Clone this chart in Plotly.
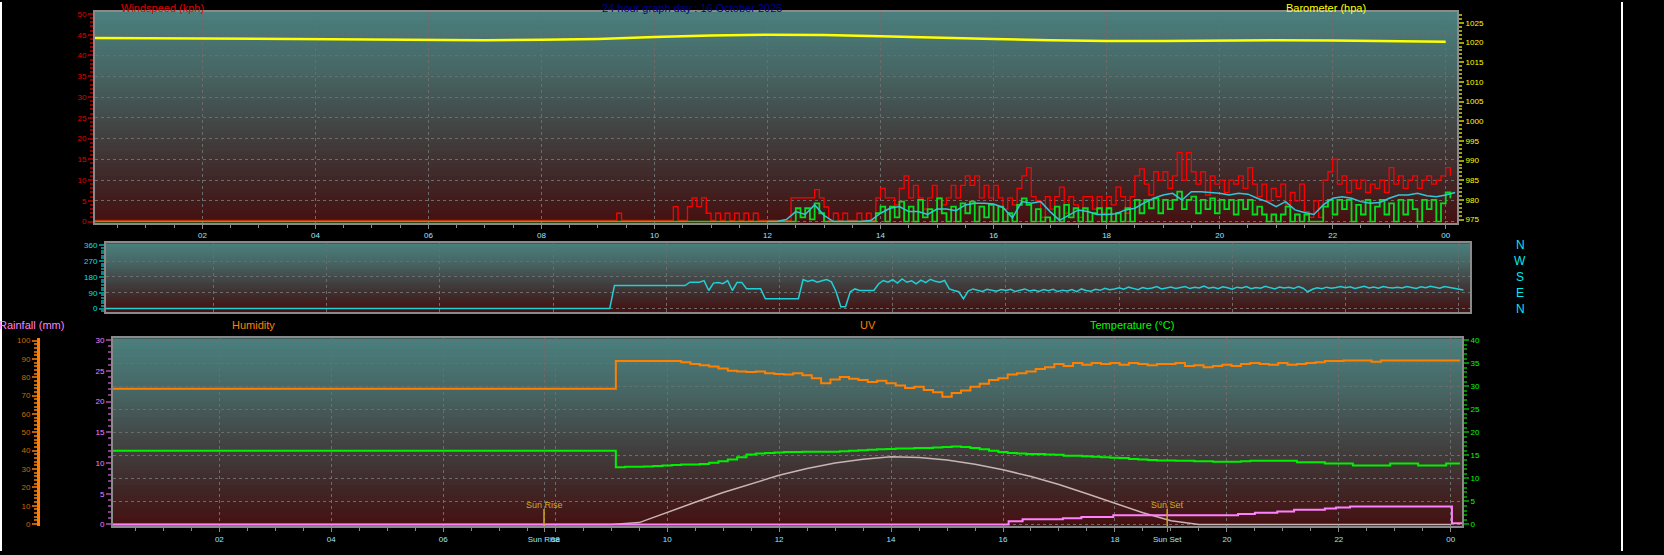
import numpy as np
import plotly.graph_objects as go

W, H = 1664, 555

# ---------------- data ----------------
DAY_TITLE = "24 hour graph day : 16 October 2025"

# wind gust (kph), one value every 5 minutes from 00:00
GUST_KPH = [
    0.3, 0.3, 0.3, 0.3, 0.3, 0.3, 0.3, 0.3, 0.3, 0.3, 0.3, 0.3,   # 00h
    0.3, 0.3, 0.3, 0.3, 0.3, 0.3, 0.3, 0.3, 0.3, 0.3, 0.3, 0.3,   # 01h
    0.3, 0.3, 0.3, 0.3, 0.3, 0.3, 0.3, 0.3, 0.3, 0.3, 0.3, 0.3,   # 02h
    0.3, 0.3, 0.3, 0.3, 0.3, 0.3, 0.3, 0.3, 0.3, 0.3, 0.3, 0.3,   # 03h
    0.3, 0.3, 0.3, 0.3, 0.3, 0.3, 0.3, 0.3, 0.3, 0.3, 0.3, 0.3,   # 04h
    0.3, 0.3, 0.3, 0.3, 0.3, 0.3, 0.3, 0.3, 0.3, 0.3, 0.3, 0.3,   # 05h
    0.3, 0.3, 0.3, 0.3, 0.3, 0.3, 0.3, 0.3, 0.3, 0.3, 0.3, 0.3,   # 06h
    0.3, 0.3, 0.3, 0.3, 0.3, 0.3, 0.3, 0.3, 0.3, 0.3, 0.3, 0.3,   # 07h
    0.3, 0.3, 0.3, 0.3, 0.3, 0.3, 0.3, 0.3, 0.3, 0.3, 0.3, 0.3,   # 08h
    0.3, 0.3, 0.3, 0.3, 2.0, 0.3, 0.3, 0.3, 0.3, 0.3, 0.3, 0.3,   # 09h
    0.3, 0.3, 0.3, 0.3, 3.6, 0.3, 0.3, 3.6, 5.7, 3.6, 5.7, 2.0,   # 10h
    0.3, 2.0, 0.3, 2.0, 0.3, 2.0, 0.3, 2.0, 0.3, 2.0, 0.3, 0.3,   # 11h
    0.3, 0.3, 0.3, 0.3, 0.3, 5.7, 5.7, 5.7, 5.7, 5.7, 7.7, 5.7,   # 12h
    3.5, 0.3, 2.0, 0.3, 2.0, 0.3, 0.3, 2.0, 0.3, 2.0, 0.3, 5.7,   # 13h
    8.0, 5.7, 5.7, 4.0, 8.0, 11.0, 5.7, 8.7, 5.7, 3.0, 5.7, 8.7,  # 14h
    5.7, 4.0, 5.7, 8.7, 5.7, 8.7, 11.0, 8.7, 11.0, 5.7, 8.7, 5.7, # 15h
    8.7, 5.7, 3.0, 5.7, 4.0, 8.0, 11.0, 13.0, 6.0, 5.0, 1.0, 6.0, # 16h
    3.0, 6.0, 8.3, 2.0, 6.0, 4.0, 1.0, 6.0, 6.0, 3.0, 6.0, 2.0,   # 17h
    6.0, 4.0, 8.3, 6.0, 2.0, 6.0, 11.0, 12.7, 9.0, 6.4, 12.0, 10.0,   # 18h
    12.0, 8.0, 11.0, 16.6, 10.0, 16.6, 12.0, 9.0, 12.0, 6.4, 11.0, 9.0,  # 19h
    10.0, 7.0, 10.0, 9.0, 11.0, 8.0, 13.0, 9.0, 6.0, 9.0, 5.0, 8.0,   # 20h
    6.0, 9.0, 4.0, 7.0, 5.0, 9.0, 2.4, 1.0, 5.0, 1.0, 10.0, 12.0,     # 21h
    15.0, 9.0, 11.0, 7.0, 10.0, 8.0, 10.0, 7.0, 9.0, 8.0, 10.0, 7.0,  # 22h
    13.0, 9.0, 11.0, 8.0, 10.0, 11.0, 8.0, 10.0, 11.0, 9.0, 10.0, 11.0,  # 23h
    13.0, 11.0,
]

# wind speed (kph), every 5 minutes from 00:00
SPEED_KPH = [
    0, 0, 0, 0, 0, 0, 0, 0, 0, 0, 0, 0,   # 00h
    0, 0, 0, 0, 0, 0, 0, 0, 0, 0, 0, 0,   # 01h
    0, 0, 0, 0, 0, 0, 0, 0, 0, 0, 0, 0,   # 02h
    0, 0, 0, 0, 0, 0, 0, 0, 0, 0, 0, 0,   # 03h
    0, 0, 0, 0, 0, 0, 0, 0, 0, 0, 0, 0,   # 04h
    0, 0, 0, 0, 0, 0, 0, 0, 0, 0, 0, 0,   # 05h
    0, 0, 0, 0, 0, 0, 0, 0, 0, 0, 0, 0,   # 06h
    0, 0, 0, 0, 0, 0, 0, 0, 0, 0, 0, 0,   # 07h
    0, 0, 0, 0, 0, 0, 0, 0, 0, 0, 0, 0,   # 08h
    0, 0, 0, 0, 0, 0, 0, 0, 0, 0, 0, 0,   # 09h
    0, 0, 0, 0, 0, 0, 0, 0, 0, 0, 0, 0,   # 10h
    0, 0, 0, 0, 0, 0, 0, 0, 0, 0, 0, 0,   # 11h
    0, 0, 0, 0, 0, 0, 3.2, 1.0, 3.2, 0.5, 4.4, 2.0,   # 12h
    0, 0, 0, 0, 0, 0, 0, 0, 0, 0, 0, 2.0,             # 13h
    3.6, 0, 3.6, 1.0, 4.8, 0, 3.6, 0, 5.2, 1.0, 3.0, 0,       # 14h
    5.6, 2.0, 0, 3.6, 0, 4.4, 2.0, 4.8, 0, 3.6, 1.0, 4.0,     # 15h
    0, 3.6, 0, 2.0, 0, 4.0, 5.6, 4.0, 0, 3.0, 0, 1.0,         # 16h
    0, 3.6, 0, 4.0, 1.0, 3.2, 0, 3.2, 0, 2.0, 3.2, 0,         # 17h
    3.2, 0, 2.0, 0, 3.2, 0, 5.2, 2.0, 5.2, 3.2, 5.6, 2.0,     # 18h
    5.2, 3.0, 5.2, 7.2, 3.0, 5.2, 6.0, 2.0, 5.2, 3.0, 5.6, 2.0,   # 19h
    5.2, 3.0, 5.2, 1.7, 5.2, 3.0, 5.2, 1.7, 3.6, 1.7, 0, 1.7,     # 20h
    0, 1.7, 3.6, 0, 1.7, 0, 1.7, 0, 0, 0, 3.6, 5.2,               # 21h
    1.7, 5.2, 3.0, 5.2, 0, 4.0, 1.7, 5.2, 0, 3.6, 5.2, 1.7,       # 22h
    4.4, 0, 5.2, 1.7, 5.2, 3.0, 0, 5.2, 3.0, 5.2, 0, 4.4,         # 23h
    7.0, 5.6,
]

# average wind (kph), every 10 minutes from 12:00
AVG_START_H = 12.0
AVG_KPH = [
    0, 0, 0.5, 2.4, 1.7, 4.0,
    1.5, 0, 0, 0, 0, 0.3,
    2.0, 3.2, 3.6, 2.4, 2.4, 1.7,
    3.0, 3.0, 2.6, 4.0, 4.4, 4.4,
    4.2, 3.4, 0.9, 4.8, 4.4, 4.8,
    2.4, 0.3, 1.6, 2.8, 2.4, 1.7,
    1.7, 1.9, 2.8, 3.2, 4.5, 5.6,
    6.4, 6.8, 5.2, 7.2, 7.2, 7.0,
    6.8, 6.4, 6.8, 6.6, 5.6, 4.8,
    3.6, 4.8, 2.8, 2.2, 1.7, 4.0,
    5.6, 6.0, 5.6, 4.8, 4.4, 4.6,
    5.6, 6.4, 6.4, 6.8, 6.2, 6.0,
    6.4, 7.0,
]

# barometer (hPa), hourly from 00:00
BARO_HPA = [1021.2, 1021.1, 1021.0, 1020.9, 1020.8, 1020.7, 1020.6, 1020.6,
            1020.7, 1020.9, 1021.4, 1021.8, 1022.0, 1021.9, 1021.6, 1021.2,
            1020.9, 1020.6, 1020.4, 1020.4, 1020.5, 1020.6, 1020.5, 1020.3, 1020.2]

# wind direction (deg), every 5 minutes from 00:00
DIR_DEG = [
    0, 0, 0, 0, 0, 0, 0, 0, 0, 0, 0, 0,   # 00h
    0, 0, 0, 0, 0, 0, 0, 0, 0, 0, 0, 0,   # 01h
    0, 0, 0, 0, 0, 0, 0, 0, 0, 0, 0, 0,   # 02h
    0, 0, 0, 0, 0, 0, 0, 0, 0, 0, 0, 0,   # 03h
    0, 0, 0, 0, 0, 0, 0, 0, 0, 0, 0, 0,   # 04h
    0, 0, 0, 0, 0, 0, 0, 0, 0, 0, 0, 0,   # 05h
    0, 0, 0, 0, 0, 0, 0, 0, 0, 0, 0, 0,   # 06h
    0, 0, 0, 0, 0, 0, 0, 0, 0, 0, 0, 0,   # 07h
    0, 0, 0, 0, 0, 0, 0, 0, 0, 0, 0, 0,   # 08h
    0, 131, 131, 131, 131, 131, 131, 131, 131, 131, 131, 131,   # 09h
    131, 131, 131, 131, 131, 150, 150, 150, 159, 103, 145, 148, # 10h
    142, 159, 103, 149, 149, 113, 113, 113, 113, 56, 56, 56,    # 11h
    56, 56, 56, 56, 56, 165, 155, 162, 150, 158, 165, 152,      # 12h
    96, 11, 11, 96, 112, 103, 103, 103, 103, 140, 160, 150,     # 13h
    165, 145, 169, 150, 158, 141, 162, 148, 167, 155, 150, 160, # 14h
    112, 103, 96, 56, 100, 112, 105, 98, 110, 104, 99, 108,     # 15h
    103, 110, 97, 105, 112, 100, 106, 98, 108, 102, 110, 97,    # 16h
    105, 100, 108, 96, 112, 103, 99, 110, 104, 115, 108, 112,   # 17h
    118, 110, 122, 115, 108, 120, 113, 117, 125, 112, 119, 123, # 18h
    115, 120, 126, 114, 122, 118, 128, 116, 121, 113, 124, 119, # 19h
    110, 122, 117, 125, 113, 120, 116, 127, 119, 112, 123, 118, # 20h
    121, 114, 126, 116, 96, 110, 118, 113, 122, 116, 120, 126,  # 21h
    119, 124, 115, 121, 127, 118, 123, 116, 125, 120, 117, 122, # 22h
    118, 126, 121, 115, 124, 119, 127, 122, 116, 125, 120, 118, # 23h
    110, 106,
]

# humidity, every 10 minutes from 00:00
HUMIDITY = [
    22.1, 22.1, 22.1, 22.1, 22.1, 22.1,   # 00h
    22.1, 22.1, 22.1, 22.1, 22.1, 22.1,   # 01h
    22.1, 22.1, 22.1, 22.1, 22.1, 22.1,   # 02h
    22.1, 22.1, 22.1, 22.1, 22.1, 22.1,   # 03h
    22.1, 22.1, 22.1, 22.1, 22.1, 22.1,   # 04h
    22.1, 22.1, 22.1, 22.1, 22.1, 22.1,   # 05h
    22.1, 22.1, 22.1, 22.1, 22.1, 22.1,   # 06h
    22.1, 22.1, 22.1, 22.1, 22.1, 22.1,   # 07h
    22.1, 22.1, 22.1, 22.1, 22.1, 22.1,   # 08h
    22.1, 26.6, 26.6, 26.6, 26.6, 26.6,   # 09h
    26.6, 26.6, 26.4, 26.1, 25.9, 25.7,   # 10h
    25.4, 25.0, 24.9, 24.8, 24.9, 24.6,   # 11h
    24.5, 24.4, 24.6, 24.3, 23.8, 23.0,   # 12h
    23.6, 24.0, 23.7, 23.5, 23.2, 23.4,   # 13h
    23.0, 22.6, 22.2, 22.4, 21.9, 21.5,   # 14h
    20.8, 21.4, 21.8, 22.4, 22.9, 23.5,   # 15h
    23.8, 24.4, 24.6, 24.9, 25.3, 25.6,   # 16h
    26.1, 25.8, 26.3, 26.0, 26.3, 26.1,   # 17h
    26.3, 26.0, 26.3, 26.1, 25.9, 26.1,   # 18h
    26.1, 26.3, 25.8, 25.9, 25.6, 25.8,   # 19h
    26.0, 25.8, 26.1, 26.3, 26.1, 26.0,   # 20h
    26.3, 26.0, 26.1, 26.3, 26.4, 26.6,   # 21h
    26.6, 26.7, 26.7, 26.7, 26.5, 26.7,   # 22h
    26.7, 26.7, 26.7, 26.7, 26.7, 26.7,   # 23h
    26.7, 26.7,
]

# temperature (degC), every 10 minutes from 00:00
TEMP_C = [
    16.0, 16.0, 16.0, 16.0, 16.0, 16.0,   # 00h
    16.0, 16.0, 16.0, 16.0, 16.0, 16.0,   # 01h
    16.0, 16.0, 16.0, 16.0, 16.0, 16.0,   # 02h
    16.0, 16.0, 16.0, 16.0, 16.0, 16.0,   # 03h
    16.0, 16.0, 16.0, 16.0, 16.0, 16.0,   # 04h
    16.0, 16.0, 16.0, 16.0, 16.0, 16.0,   # 05h
    16.0, 16.0, 16.0, 16.0, 16.0, 16.0,   # 06h
    16.0, 16.0, 16.0, 16.0, 16.0, 16.0,   # 07h
    16.0, 16.0, 16.0, 16.0, 16.0, 16.0,   # 08h
    16.0, 12.4, 12.5, 12.5, 12.6, 12.7,   # 09h
    12.8, 12.9, 13.0, 13.0, 13.1, 13.4,   # 10h
    13.7, 14.1, 14.6, 15.2, 15.4, 15.5,   # 11h
    15.6, 15.7, 15.7, 15.8, 15.8, 15.8,   # 12h
    15.8, 15.9, 16.0, 16.1, 16.2, 16.3,   # 13h
    16.4, 16.5, 16.5, 16.6, 16.6, 16.7,   # 14h
    16.8, 16.9, 16.8, 16.6, 16.3, 16.0,   # 15h
    15.7, 15.5, 15.4, 15.3, 15.3, 15.2,   # 16h
    15.1, 14.9, 14.9, 14.8, 14.7, 14.6,   # 17h
    14.5, 14.4, 14.2, 14.1, 14.0, 13.9,   # 18h
    13.9, 13.8, 13.8, 13.7, 13.7, 13.6,   # 19h
    13.6, 13.6, 13.7, 13.8, 13.8, 13.8,   # 20h
    13.8, 13.8, 13.5, 13.5, 13.5, 13.2,   # 21h
    13.2, 13.2, 12.8, 12.8, 12.8, 12.8,   # 22h
    13.2, 13.2, 13.2, 12.8, 12.8, 12.8,   # 23h
    13.2, 13.2,
]

# UV, every 30 minutes from 00:00
UV_INDEX = [
    0, 0, 0, 0, 0, 0, 0, 0, 0, 0, 0, 0, 0, 0, 0, 0, 0, 0,   # 00h-08h
    0.0, 0.3, 2.0, 3.6, 5.2, 6.6, 8.0, 9.1, 10.0, 10.6,      # 09h-13h
    11.0, 10.9, 10.5, 9.8, 8.9, 7.8, 6.5, 5.0, 3.4, 1.9,     # 14h-18h
    0.6, 0.0, 0, 0, 0, 0, 0, 0, 0, 0, 0,                      # 19h-24h
]

# rainfall (mm), cumulative, as recorded
RAIN_HOURS = [0.0, 16.1, 16.35, 17.07, 17.4, 17.97, 20.2, 20.5, 20.9, 21.2,
              21.75, 21.95, 22.2, 24.02, 24.3]
RAIN_MM = [0.0, 0.5, 0.85, 1.0, 1.2, 1.5, 1.7, 1.9, 2.1, 2.4,
           2.6, 2.75, 2.9, 0.2, 0.2]

SUNRISE_H = 7 + 48 / 60
SUNSET_H = 18 + 56 / 60

HOUR_TICKS = list(range(2, 25, 2))
HOUR_TEXT = ["%02d" % (h % 24) for h in HOUR_TICKS]

# ---------------- layout helpers ----------------
X_RANGE = [0.1, 24.2]
FONT = "Liberation Sans"


def px_x(p):
    return p / W


def px_y(p):
    return 1 - p / H


TOP = dict(x=[px_x(95), px_x(1457)], y=[px_y(223), px_y(10)])
MID = dict(x=[px_x(106), px_x(1470)], y=[px_y(313), px_y(244)])
BOT = dict(x=[px_x(113), px_x(1462)], y=[px_y(530), px_y(340)])

GRAD = [(0.0, (74, 128, 126)), (0.3, (70, 100, 98)), (0.55, (66, 68, 68)),
        (0.8, (64, 38, 38)), (1.0, (70, 16, 16))]


def grad_color(f):
    for (f0, c0), (f1, c1) in zip(GRAD[:-1], GRAD[1:]):
        if f <= f1:
            t = (f - f0) / (f1 - f0)
            return "rgb(%d,%d,%d)" % tuple(round(a + (b - a) * t) for a, b in zip(c0, c1))
    return "rgb(%d,%d,%d)" % GRAD[-1][1]


def gradient_shapes(dom, n=50):
    # each band runs down to the panel bottom, so no seams show between bands
    out = []
    x0, x1 = dom["x"]
    y0, y1 = dom["y"]
    for i in range(n):
        top = y1 - (y1 - y0) * i / n
        out.append(dict(type="rect", xref="paper", yref="paper", x0=x0, x1=x1, y0=y0, y1=top,
                        fillcolor=grad_color((i + 0.5) / n), line=dict(width=0), layer="below"))
    return out


t5 = np.arange(len(GUST_KPH)) * 5 / 60
t5d = np.arange(len(DIR_DEG)) * 5 / 60
t10 = np.arange(len(HUMIDITY)) * 10 / 60
t_avg = AVG_START_H + np.arange(len(AVG_KPH)) * 10 / 60
t_baro = np.arange(len(BARO_HPA))
t_uv = np.arange(len(UV_INDEX)) * 0.5

fig = go.Figure()
# top panel
fig.add_trace(go.Scatter(x=t_baro, y=BARO_HPA, mode="lines", xaxis="x", yaxis="y2",
                         line=dict(color="#ffff00", width=2.5)))
fig.add_trace(go.Scatter(x=t5, y=GUST_KPH, mode="lines", xaxis="x", yaxis="y",
                         line=dict(color="#ff0000", width=1.3, shape="hv")))
fig.add_trace(go.Scatter(x=t5, y=SPEED_KPH, mode="lines", xaxis="x", yaxis="y",
                         line=dict(color="#00e020", width=1.8, shape="hv")))
fig.add_trace(go.Scatter(x=t_avg, y=AVG_KPH, mode="lines", xaxis="x", yaxis="y",
                         line=dict(color="#30c8d8", width=1.5)))
# middle panel
fig.add_trace(go.Scatter(x=t5d, y=DIR_DEG, mode="lines", xaxis="x2", yaxis="y3",
                         line=dict(color="#20d0d8", width=1.5)))
# bottom panel
fig.add_trace(go.Scatter(x=t_uv, y=UV_INDEX, mode="lines", xaxis="x3", yaxis="y4",
                         line=dict(color="#c8b4b4", width=1.5)))
fig.add_trace(go.Scatter(x=RAIN_HOURS, y=RAIN_MM, mode="lines", xaxis="x3", yaxis="y4",
                         line=dict(color="#ff80ff", width=2, shape="hv")))
fig.add_trace(go.Scatter(x=t10, y=HUMIDITY, mode="lines", xaxis="x3", yaxis="y4",
                         line=dict(color="#ff8000", width=2, shape="hvh")))
fig.add_trace(go.Scatter(x=t10, y=TEMP_C, mode="lines", xaxis="x3", yaxis="y5",
                         line=dict(color="#00f000", width=2, shape="hvh")))
fig.add_trace(go.Scatter(x=[None], y=[None], xaxis="x3", yaxis="y6", showlegend=False))

grid = dict(showgrid=True, gridcolor="#6c6c6c", griddash="dot", gridwidth=1)
border = dict(showline=True, linecolor="#8a8a8a", linewidth=2, mirror=True, zeroline=False)


def xaxis(dom, labels=True, anchor="y", text=None, vals=None):
    return dict(domain=dom["x"], anchor=anchor, range=X_RANGE, **grid, **border,
                tickmode="array", tickvals=vals or HOUR_TICKS, ticktext=text or HOUR_TEXT,
                tickangle=0, showticklabels=labels, ticks="outside" if labels else "", ticklen=4,
                tickcolor="#8a8a8a", tickfont=dict(family=FONT, size=8, color="#9be6ff"),
                minor=dict(dtick=0.5, tick0=0, ticklen=3, tickcolor="#8a8a8a",
                           ticks="outside" if labels else "", showgrid=False))


def yaxis(dom, rng, dtick, tcol, lcol, minor, side="left", anchor="x", showgrid=True, **kw):
    d = dict(domain=dom["y"], anchor=anchor, range=rng, side=side, dtick=dtick, tick0=0,
             ticks="outside", ticklen=5, tickwidth=2, tickcolor=tcol,
             tickfont=dict(family=FONT, size=8, color=lcol),
             minor=dict(dtick=minor, ticklen=3, tickcolor=tcol, ticks="outside", showgrid=False),
             **border)
    if showgrid:
        d.update(grid)
    else:
        d["showgrid"] = False
    d.update(kw)
    return d


bot_vals = [2, 4, 6, SUNRISE_H, 8, 10, 12, 14, 16, 18, SUNSET_H, 20, 22, 24]
bot_text = ["02", "04", "06", "Sun Rise", "08", "10", "12", "14", "16", "18", "Sun Set", "20", "22", "00"]

fig.update_layout(
    width=W, height=H, margin=dict(l=0, r=0, t=0, b=0),
    paper_bgcolor="black", plot_bgcolor="black", showlegend=False,
    xaxis=xaxis(TOP, anchor="y"),
    yaxis=yaxis(TOP, [-0.25, 50.5], 5, "#8b0000", "#e00000", 1),
    yaxis2=yaxis(TOP, [974.25, 1027.8], 5, "#a0a000", "#ffff00", 1, side="right",
                 overlaying="y", showgrid=False, tick0=975),
    xaxis2=xaxis(MID, labels=False, anchor="y3"),
    yaxis3=yaxis(MID, [-17, 371], 90, "#008888", "#00e0f0", 15, anchor="x2"),
    xaxis3=xaxis(BOT, anchor="y4", text=bot_text, vals=bot_vals),
    yaxis4=yaxis(BOT, [-0.3, 30.3], 5, "#804080", "#ff80ff", 1, anchor="x3", showgrid=False),
    yaxis5=yaxis(BOT, [-0.4, 40.4], 5, "#008800", "#00ff00", 1, side="right", anchor="x3",
                  overlaying="y4"),
    yaxis6=dict(domain=BOT["y"], range=[-1.2, 101.2], dtick=10, tick0=0, overlaying="y4",
                anchor="free", position=px_x(38), side="left", showgrid=False, zeroline=False,
                showline=True, linecolor="#ff8000", linewidth=3, ticks="outside", ticklen=5,
                tickwidth=2, tickcolor="#c06000",
                tickfont=dict(family=FONT, size=8, color="#d06800"),
                minor=dict(dtick=2, ticklen=3, tickcolor="#c06000", ticks="outside")),
)

shapes = gradient_shapes(TOP) + gradient_shapes(MID) + gradient_shapes(BOT)
for h in (SUNRISE_H, SUNSET_H):
    shapes.append(dict(type="line", xref="x3", yref="y4", x0=h, x1=h, y0=-0.3, y1=2.5,
                       line=dict(color="#d4a820", width=1.5)))
shapes.append(dict(type="line", xref="paper", yref="paper", x0=px_x(1622), x1=px_x(1622),
                   y0=0, y1=1, line=dict(color="white", width=2)))
shapes.append(dict(type="line", xref="paper", yref="paper", x0=px_x(1), x1=px_x(1),
                   y0=0, y1=1, line=dict(color="white", width=2)))
fig.update_layout(shapes=shapes)


def label(text, x, y, color, anchor="left", size=11, **kw):
    fig.add_annotation(text=text, x=x, y=y, xref=kw.pop("xref", "paper"), yref=kw.pop("yref", "paper"),
                       xanchor=anchor, yanchor="middle", showarrow=False,
                       font=dict(family=FONT, size=size, color=color), **kw)


label("Windspeed (kph)", px_x(119), px_y(6), "#e00000")
label(DAY_TITLE, px_x(600), px_y(6), "#000090")
label("Barometer (hpa)", px_x(1368), px_y(6), "#ffff00", anchor="right")
for letter, deg in zip("NWSEN", [360, 270, 180, 90, 0]):
    label(letter, px_x(1520), deg, "#00e8f0", anchor="center", size=12, yref="y3")
label("Rainfall (mm)", px_x(-3), px_y(327), "#ff80ff")
label("Humidity", px_x(230), px_y(327), "#ff8000")
label("UV", px_x(858), px_y(327), "#ff8000")
label("Temperature (°C)", px_x(1088), px_y(327), "#00ff00")
label("Sun Rise", SUNRISE_H, 3.2, "#d4aa20", anchor="center", size=9, xref="x3", yref="y4")
label("Sun Set", SUNSET_H, 3.2, "#d4aa20", anchor="center", size=9, xref="x3", yref="y4")

fig.write_html("out.html", config={"displayModeBar": False},
               post_script="document.body.style.margin='0';"
                           "document.body.style.background='black';")
